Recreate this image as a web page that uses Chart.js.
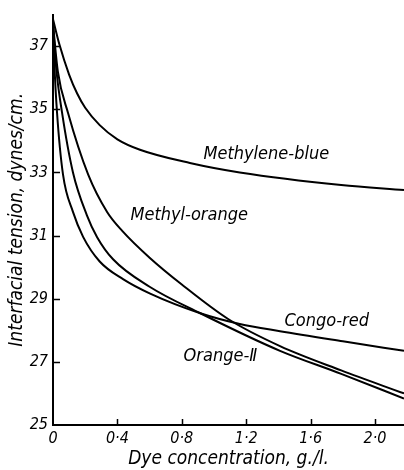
<!DOCTYPE html>
<html>
<head>
<meta charset="utf-8">
<script src="https://cdn.jsdelivr.net/npm/chart.js@4.4.1/dist/chart.umd.min.js"></script>
<style>
  html, body { margin:0; padding:0; background:#fff; }
  #wrap { width:404px; height:470px; }
</style>
</head>
<body>
<div id="wrap"><canvas id="ch"></canvas></div>
<script>
'use strict';
/* data: concentration (g/l) vs interfacial tension (dynes/cm) */
const xTicks = [0, 0.4, 0.8, 1.2, 1.6, 2.0];
const xTickLabels = ['0', '0·4', '0·8', '1·2', '1·6', '2·0'];
const yTicks = [25, 27, 29, 31, 33, 35, 37];

const blueX    = [0, 0.04, 0.1, 0.15, 0.2, 0.29, 0.4, 0.54, 0.85, 1.16, 1.79, 2.18];
const blueY    = [37.85, 37.05, 36.1, 35.5, 35.05, 34.5, 34.05, 33.72, 33.3, 33.0, 32.6, 32.44];
const mOrangeX = [0, 0.03, 0.093, 0.218, 0.336, 0.43, 0.6, 0.8, 1.09, 1.41, 1.79, 2.18];
const mOrangeY = [37.7, 36.2, 34.89, 32.94, 31.75, 31.15, 30.3, 29.45, 28.35, 27.5, 26.73, 26.0];
const orange2X = [0, 0.02, 0.056, 0.124, 0.21, 0.274, 0.373, 0.6, 0.915, 1.41, 1.79, 2.18];
const orange2Y = [37.7, 36.3, 34.9, 33.0, 31.65, 30.95, 30.25, 29.38, 28.54, 27.35, 26.62, 25.84];
const congoX   = [0, 0.008, 0.025, 0.062, 0.124, 0.187, 0.29, 0.435, 0.6, 0.915, 1.16, 1.41, 1.8, 2.18];
const congoY   = [37.7, 36.5, 34.9, 32.94, 31.75, 30.96, 30.18, 29.62, 29.17, 28.54, 28.2, 27.97, 27.65, 27.35];

// curve names and where they are written (data units)
const curveNames = ['Methylene-blue', 'Methyl-orange', 'Congo-red', 'Orange-Ⅱ'];
const nameX = [1.325, 0.846, 1.70, 1.04];
const nameY = [33.57, 31.65, 28.29, 27.16];

const FAMILY = '"DejaVu Sans Condensed", "DejaVu Sans", sans-serif';
const tickFont  = { family: FAMILY, size: 16, style: 'italic' };
const titleFont = { family: FAMILY, size: 19, style: 'italic' };

const pts = (xs, ys) => xs.map((x, i) => ({ x, y: ys[i] }));
const curve = (label, xs, ys) => ({
  label, data: pts(xs, ys),
  borderColor: '#000', borderWidth: 2, pointRadius: 0,
  cubicInterpolationMode: 'monotone', fill: false
});

// short inward ticks + curve names
const decor = {
  id: 'decor',
  afterDatasetsDraw(chart) {
    const { ctx, scales: { x, y } } = chart;
    ctx.save();
    ctx.strokeStyle = '#000'; ctx.lineWidth = 1.5;
    ctx.beginPath();
    xTicks.slice(1).forEach(v => {
      const px = Math.round(x.getPixelForValue(v)) + 0.5;
      ctx.moveTo(px, y.bottom); ctx.lineTo(px, y.bottom - 6);
    });
    yTicks.slice(1).forEach(v => {
      const py = Math.round(y.getPixelForValue(v)) + 0.5;
      ctx.moveTo(x.left, py); ctx.lineTo(x.left + 7, py);
    });
    ctx.stroke();
    ctx.fillStyle = '#000'; ctx.font = 'italic 18px ' + FAMILY;
    ctx.textAlign = 'center'; ctx.textBaseline = 'middle';
    curveNames.forEach((n, i) => ctx.fillText(n, x.getPixelForValue(nameX[i]), y.getPixelForValue(nameY[i])));
    ctx.restore();
  }
};

new Chart(document.getElementById('ch'), {
  type: 'line',
  data: {
    datasets: [
      curve('Methylene-blue', blueX, blueY),
      curve('Methyl-orange', mOrangeX, mOrangeY),
      curve('Orange-II', orange2X, orange2Y),
      curve('Congo-red', congoX, congoY)
    ]
  },
  options: {
    responsive: true, maintainAspectRatio: false, animation: false,
    layout: { padding: { top: 12, right: 0, left: 6, bottom: 0 } },
    plugins: { legend: { display: false }, tooltip: { enabled: false } },
    scales: {
      x: {
        type: 'linear', min: 0, max: 2.18,
        grid: { display: false, drawTicks: false },
        border: { display: true, color: '#000', width: 2 },
        afterBuildTicks: s => { s.ticks = xTicks.map(v => ({ value: v })); },
        afterFit: s => { s.height = 45; },
        ticks: { color: '#000', font: tickFont, padding: 4, maxRotation: 0, autoSkip: false,
                 callback: (v) => xTickLabels[xTicks.indexOf(v)] },
        title: { display: true, text: 'Dye concentration, g./l.', color: '#000', font: titleFont, padding: { top: 0, bottom: 0 } }
      },
      y: {
        min: 25, max: 38,
        grid: { display: false, drawTicks: false },
        border: { display: true, color: '#000', width: 2 },
        afterBuildTicks: s => { s.ticks = yTicks.map(v => ({ value: v })); },
        afterFit: s => { s.width = 47; },
        ticks: { color: '#000', font: tickFont, padding: 5 },
        title: { display: true, text: 'Interfacial tension, dynes/cm.', color: '#000', font: titleFont, padding: 0 }
      }
    }
  },
  plugins: [decor]
});
</script>
</body>
</html>
